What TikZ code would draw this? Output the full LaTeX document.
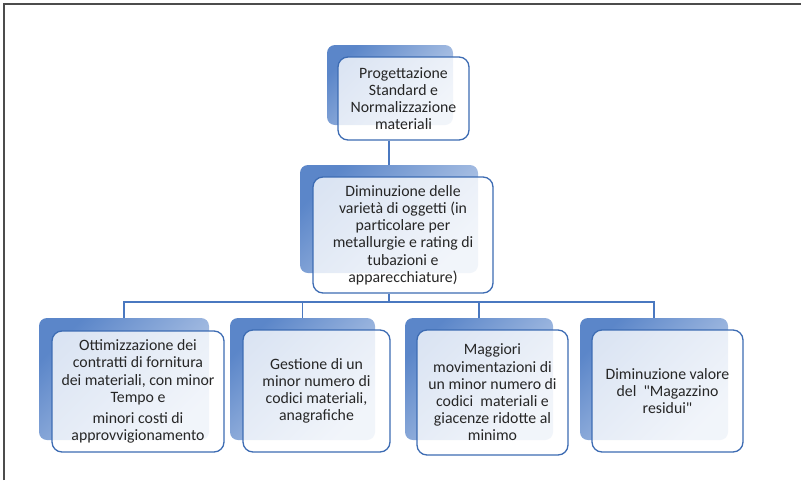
\documentclass[tikz,border=0pt]{standalone}
\usepackage{fontspec}
\setmainfont{Carlito}
\newfontfamily\plainquote{Carlito}[Ligatures=TeXOff]
\usepackage{xcolor}
\usepackage{tikz}
\usetikzlibrary{positioning, calc}

\definecolor{bkdark}{HTML}{5B86C9}
\definecolor{bklight}{HTML}{C3D3EC}
\definecolor{edgeblue}{HTML}{3D6CB3}
\definecolor{linkblue}{HTML}{4A78C0}
\definecolor{txtgray}{HTML}{262626}

\begin{document}
\begin{tikzpicture}[
      x=1pt, y=-1pt,
      font=\fontsize{15.8}{17.2}\selectfont,
      back/.style={rounded corners=8pt, top color=bkdark, bottom color=bklight, shading angle=45, inner sep=0pt},
      front/.style={draw=edgeblue, line width=1.3pt, rounded corners=10pt, fill=white, fill opacity=0.78, text opacity=1, text=txtgray, align=center, inner sep=2pt},
      link/.style={draw=linkblue, line width=1.6pt}
    ]
    \useasboundingbox (0,0) rectangle (801,480);
    %% outer frame
    \draw[line width=1.2pt, black!70] (4,480) -- (4,4) -- (801,4);
    %% back boxes
    \node[back, minimum width=126pt, minimum height=80pt]  (topback) at (390,85) {};
    \node[back, minimum width=178pt, minimum height=108pt] (midback) at (389,219) {};
    \node[back, minimum width=170pt, minimum height=122pt] (b1back)  at (124,379) {};
    \node[back, minimum width=145pt, minimum height=122pt] (b2back)  at (302.5,379) {};
    \node[back, minimum width=148pt, minimum height=122pt] (b3back)  at (479,379) {};
    \node[back, minimum width=148pt, minimum height=122pt] (b4back)  at (654,379) {};
    %% front boxes
    \node[front, minimum width=131pt, minimum height=83pt] (top) at (403.5,98.5)
      {Progettazione\\Standard e\\Normalizzazione\\materiali};
    \node[front, minimum width=180pt, minimum height=116pt] (mid) at (403,235)
      {Diminuzione delle\\variet\`a di oggetti (in\\particolare per\\metallurgie e rating di\\tubazioni e\\apparecchiature)};
    \node[front, minimum width=172pt, minimum height=121pt] (b1) at (138,391.5)
      {Ottimizzazione dei\\contratti di fornitura\\dei materiali, con minor\\Tempo e\\[4pt]minori costi di\\approvvigionamento};
    \node[front, minimum width=147pt, minimum height=122pt] (b2) at (316.5,391)
      {Gestione di un\\minor numero di\\codici materiali,\\anagrafiche};
    \node[front, minimum width=151pt, minimum height=125pt] (b3) at (492.5,392.5)
      {Maggiori\\movimentazioni di\\un minor numero di\\codici\ \ materiali e\\giacenze ridotte al\\minimo};
    \node[front, minimum width=151pt, minimum height=122pt] (b4) at (667.5,391)
      {Diminuzione valore\\del\ \ {\plainquote "}Magazzino\\residui{\plainquote "}};
    %% connectors
    \coordinate (bus) at (0,302);
    \draw[link] (midback.north |- top.south) -- (midback.north);
    \draw[link] (midback.south |- mid.south) -- (midback.south |- bus) -| (b1back.north);
    \draw[link] (midback.south |- bus) -| (b2back.north);
    \draw[link] (midback.south |- bus) -| (b3back.north);
    \draw[link] (midback.south |- bus) -| (b4back.north);
  \end{tikzpicture}
\end{document}
